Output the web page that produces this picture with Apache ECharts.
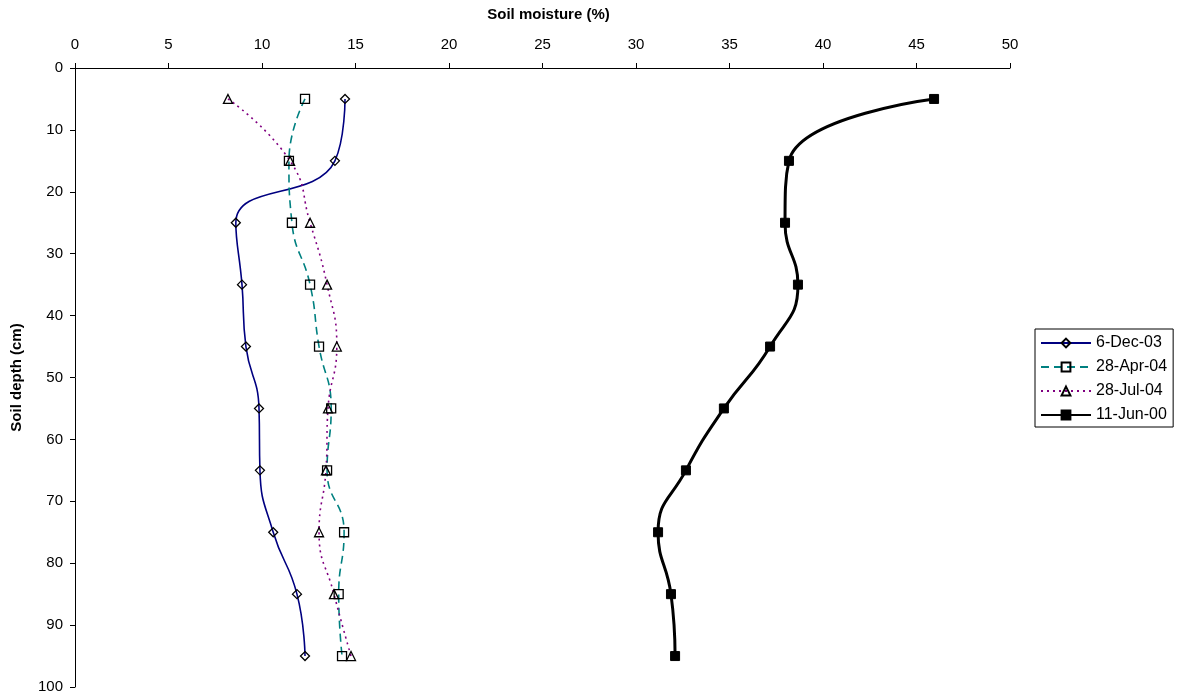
<!DOCTYPE html>
<html>
<head>
<meta charset="utf-8">
<script src="https://cdn.jsdelivr.net/npm/echarts@6/dist/echarts.min.js"></script>
<style>
html,body{margin:0;padding:0;background:#fff;}
#chart{width:1180px;height:697px;}
</style>
</head>
<body>
<div id="chart"></div>
<script>
// Depths (cm)
const depths = [5, 15, 25, 35, 45, 55, 65, 75, 85, 95];
// Soil moisture (%) per series
const dec03 = [14.44, 13.9, 8.6, 8.93, 9.14, 9.84, 9.89, 10.6, 11.87, 12.3];
const apr04 = [12.3, 11.44, 11.6, 12.57, 13.05, 13.7, 13.48, 14.39, 14.1, 14.28];
const jul04 = [8.18, 11.5, 12.57, 13.48, 14.0, 13.53, 13.42, 13.05, 13.85, 14.76];
const jun00 = [45.94, 38.18, 37.97, 38.66, 37.17, 34.7, 32.67, 31.18, 31.87, 32.09];
const seriesNames = ['6-Dec-03', '28-Apr-04', '28-Jul-04', '11-Jun-00'];

const pairs = arr => arr.map((v, i) => [v, depths[i]]);
const FONT = 'Liberation Sans, Arial, sans-serif';

const chart = echarts.init(document.getElementById('chart'), null, {renderer: 'canvas'});
chart.setOption({
  animation: false,
  backgroundColor: '#fff',
  textStyle: {fontFamily: FONT, color: '#000'},
  grid: {left: 75, right: 170, top: 68, bottom: 10},
  xAxis: {
    type: 'value', position: 'top', min: 0, max: 50, interval: 5,
    name: 'Soil moisture (%)', nameLocation: 'middle', nameGap: 46,
    nameTextStyle: {fontFamily: FONT, fontWeight: 'bold', fontSize: 15, color: '#000', padding: [0, 0, 0, 12]},
    axisLine: {show: true, lineStyle: {color: '#000', width: 1}},
    axisTick: {show: true, inside: false, length: 5, lineStyle: {color: '#000'}},
    axisLabel: {fontFamily: FONT, fontSize: 15, color: '#000', margin: 16},
    splitLine: {show: false}
  },
  yAxis: {
    type: 'value', inverse: true, min: 0, max: 100, interval: 10,
    name: 'Soil depth (cm)', nameLocation: 'middle', nameGap: 51,
    nameTextStyle: {fontFamily: FONT, fontWeight: 'bold', fontSize: 15, color: '#000'},
    axisLine: {show: true, onZero: false, lineStyle: {color: '#000', width: 1}},
    axisTick: {show: true, length: 5, lineStyle: {color: '#000'}},
    axisLabel: {fontFamily: FONT, fontSize: 15, color: '#000', margin: 12},
    splitLine: {show: false}
  },
  legend: {
    orient: 'vertical', left: 1035, top: 329,
    borderColor: '#000', borderWidth: 1, padding: [6, 6, 4, 5],
    itemWidth: 50, itemHeight: 11, itemGap: 8,
    textStyle: {fontFamily: FONT, fontSize: 16, color: '#000'},
    data: seriesNames
  },
  series: [
    {
      name: seriesNames[0], type: 'line', data: pairs(dec03), smooth: 0.5,
      symbol: 'diamond', symbolSize: 9,
      lineStyle: {color: '#000080', width: 1.6, type: 'solid'},
      itemStyle: {color: 'rgba(255,255,255,0)', borderColor: '#000', borderWidth: 1.3}
    },
    {
      name: seriesNames[1], type: 'line', data: pairs(apr04), smooth: 0.5,
      symbol: 'rect', symbolSize: 9,
      lineStyle: {color: '#008080', width: 1.6, type: [8, 5]},
      itemStyle: {color: 'rgba(255,255,255,0)', borderColor: '#000', borderWidth: 1.3}
    },
    {
      name: seriesNames[2], type: 'line', data: pairs(jul04), smooth: 0.5,
      symbol: 'triangle', symbolSize: 9,
      lineStyle: {color: '#800080', width: 1.6, type: [2, 4]},
      itemStyle: {color: 'rgba(255,255,255,0)', borderColor: '#000', borderWidth: 1.3}
    },
    {
      name: seriesNames[3], type: 'line', data: pairs(jun00), smooth: 0.5,
      symbol: 'rect', symbolSize: 9,
      lineStyle: {color: '#000', width: 3, type: 'solid'},
      itemStyle: {color: '#000', borderColor: '#000', borderWidth: 1}
    }
  ]
});
</script>
</body>
</html>
